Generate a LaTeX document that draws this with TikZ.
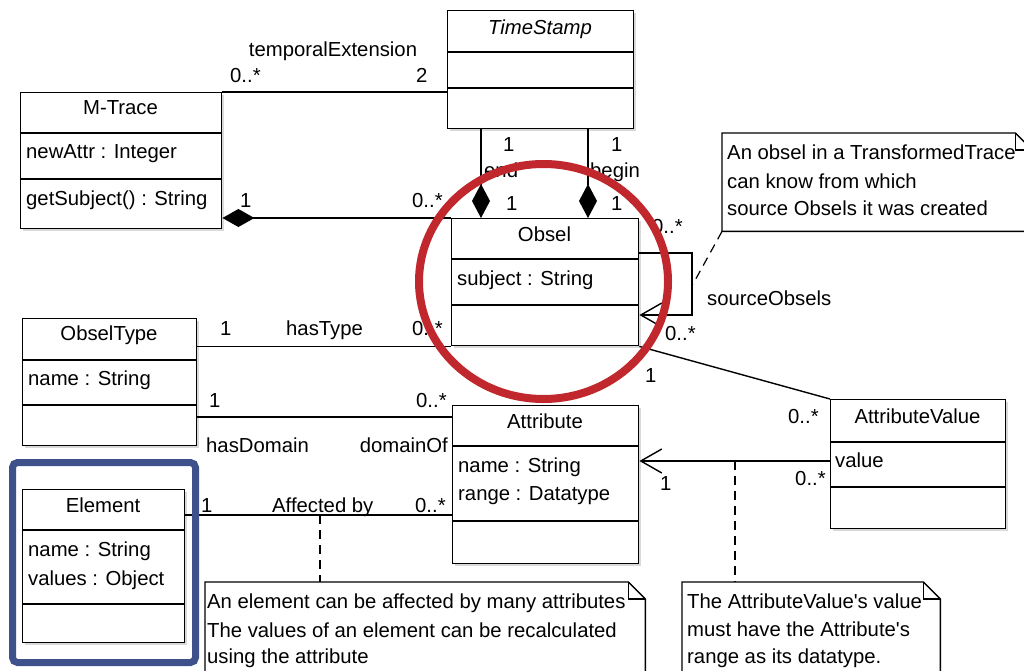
\documentclass[tikz,border=0pt]{standalone}
\usepackage{fontspec}
\setmainfont{Liberation Sans}[Ligatures=TeXOff]
\usetikzlibrary{arrows.meta,shadows}
\definecolor{circred}{RGB}{192,40,45}
\definecolor{hlblue}{RGB}{63,81,138}
\begin{document}
\begin{tikzpicture}[x=1pt,y=-1pt,
  ln/.style={line width=1.4pt, black},
  cls/.style={draw, line width=1.4pt, fill=white, inner sep=0pt, anchor=north west,
    drop shadow={shadow xshift=2pt,shadow yshift=-2pt,opacity=0.3}},
  notebox/.style={inner sep=0pt, anchor=north west},
  txt/.style={inner sep=0pt, font=\fontsize{20.3}{24}\selectfont},
  tw/.style={txt, anchor=base west},
  tc/.style={txt, anchor=base},
  comp/.style={ln, {Diamond[length=32pt,width=18pt]}-},
  compend/.style={ln, -{Diamond[length=34pt,width=18pt]}},
  nav/.style={ln, -{Straight Barb[length=21pt,width=24pt]}},
  dsh/.style={line width=1.2pt, dash pattern=on 9pt off 6pt},
]
\useasboundingbox (0,0) rectangle (1024,671);
\clip (0,0) rectangle (1024,671);

% ---------- classes ----------
\node[cls, minimum width=201pt, minimum height=136pt] (mtrace) at (20,92) {};
\draw[ln] (20,133) -- (221,133) (20,179) -- (221,179);
\node[tc] (mtraceT) at (120.5,115) {M-Trace};
\node[tw] (mtraceA) at (26,159) {newAttr : Integer};
\node[tw] (mtraceO) at (26,205) {getSubject() : String};

\node[cls, minimum width=186pt, minimum height=118pt] (ts) at (447,10) {};
\draw[ln] (447,52) -- (633,52) (447,88) -- (633,88);
\node[tc] (tsT) at (540,35) {\itshape TimeStamp};

\node[cls, minimum width=187pt, minimum height=127pt] (obsel) at (451,218) {};
\draw[ln] (451,259) -- (638,259) (451,305) -- (638,305);
\node[tc] (obselT) at (544.5,241) {Obsel};
\node[tw] (obselA) at (457,285) {subject : String};

\node[cls, minimum width=174pt, minimum height=127pt] (otype) at (22,318) {};
\draw[ln] (22,360) -- (196,360) (22,405) -- (196,405);
\node[tc] (otypeT) at (109,340) {ObselType};
\node[tw] (otypeA) at (28,385) {name : String};

\node[cls, minimum width=186pt, minimum height=158pt] (attr) at (452,405) {};
\draw[ln] (452,446) -- (638,446) (452,521) -- (638,521);
\node[tc] (attrT) at (545,428) {Attribute};
\node[tw] (attrA) at (458,472) {name : String};
\node[tw] (attrB) at (458,500) {range : Datatype};

\node[cls, minimum width=175pt, minimum height=129pt] (av) at (830,399) {};
\draw[ln] (830,442) -- (1005,442) (830,487) -- (1005,487);
\node[tc] (avT) at (917.5,423) {AttributeValue};
\node[tw] (avA) at (835,467) {value};

\node[cls, minimum width=162pt, minimum height=153pt] (elem) at (22,489) {};
\draw[ln] (22,530) -- (184,530) (22,604) -- (184,604);
\node[tc] (elemT) at (103,512) {Element};
\node[tw] (elemA) at (28,556) {name : String};
\node[tw] (elemB) at (28,585) {values : Object};

% ---------- notes ----------
\node[notebox, minimum width=310pt, minimum height=98pt] (note1) at (722,133) {};
\draw[ln, fill=white] (note1.north west) -- ([xshift=-17pt]note1.north east) -- ([yshift=-17pt]note1.north east) -- (note1.south east) -- (note1.south west) -- cycle;
\draw[ln] ([xshift=-17pt]note1.north east) -- ([xshift=-17pt,yshift=-17pt]note1.north east) -- ([yshift=-17pt]note1.north east);
\node[tw] (n1a) at (727,160) {An obsel in a TransformedTrace};
\node[tw] (n1b) at (727,188) {can know from which};
\node[tw] (n1c) at (727,215) {source Obsels it was created};

\node[notebox, minimum width=258pt, minimum height=120pt] (note2) at (682,582) {};
\draw[ln, fill=white] (note2.north west) -- ([xshift=-17pt]note2.north east) -- ([yshift=-17pt]note2.north east) -- (note2.south east) -- (note2.south west) -- cycle;
\draw[ln] ([xshift=-17pt]note2.north east) -- ([xshift=-17pt,yshift=-17pt]note2.north east) -- ([yshift=-17pt]note2.north east);
\node[tw] (n2a) at (687,608) {The AttributeValue's value};
\node[tw] (n2b) at (687,636) {must have the Attribute's};
\node[tw] (n2c) at (687,663) {range as its datatype.};

\node[notebox, minimum width=440pt, minimum height=120pt] (note3) at (205,582) {};
\draw[ln, fill=white] (note3.north west) -- ([xshift=-17pt]note3.north east) -- ([yshift=-17pt]note3.north east) -- (note3.south east) -- (note3.south west) -- cycle;
\draw[ln] ([xshift=-17pt]note3.north east) -- ([xshift=-17pt,yshift=-17pt]note3.north east) -- ([yshift=-17pt]note3.north east);
\node[tw] (n3a) at (207,608) {An element can be affected by many attributes};
\node[tw] (n3b) at (207,637) {The values of an element can be recalculated};
\node[tw] (n3c) at (207,663) {using the attribute};

% ---------- connectors ----------
% temporalExtension
\draw[ln] (mtrace.north east) -- (ts.west |- mtrace.north east);
\node[tc] (teL) at (333,57) {temporalExtension};
\node[tw] (teM1) at (230,83) {0..*};
\node[tw] (teM2) at (416,83) {2};

% M-Trace composition
\draw[comp] (mtrace.east |- obsel.north west) -- (obsel.north west);
\node[tw] (mcM1) at (240,207) {1};
\node[tw] (mcM2) at (412,207) {0..*};

% end / begin
\coordinate (endx) at (481,0);
\coordinate (begx) at (588,0);
\draw[compend] (ts.south -| endx) -- (obsel.north -| endx);
\draw[compend] (ts.south -| begx) -- (obsel.north -| begx);
\node[tw] (endM1) at (503,152) {1};
\node[tw] (endL) at (484,178) {end};
\node[tw] (endM2) at (506,210) {1};
\node[tw] (begM1) at (611,152) {1};
\node[tw] (begL) at (590,178) {begin};
\node[tw] (begM2) at (611,210) {1};

% self loop sourceObsels
\coordinate (lpA) at (692,253);
\coordinate (lpB) at (692,315);
\coordinate (lpM) at (693,284);
\draw[nav] (obsel.east |- lpA) -- (lpA) -- (lpB) -- (obsel.east |- lpB);
\node[tw] (lpM1) at (652,233) {0..*};
\node[tw] (lpM2) at (665,340) {0..*};
\node[tw] (lpL) at (707,305) {sourceObsels};
\draw[dsh] (note1.south west) -- (lpM);

% hasType
\draw[ln] (otype.east |- obsel.south west) -- (obsel.south west);
\node[tw] (htM1) at (220,335) {1};
\node[tw] (htL) at (286,335) {hasType};
\node[tw] (htM2) at (412,335) {0..*};

% hasDomain
\coordinate (domY) at (0,417);
\draw[ln] (otype.east |- domY) -- (attr.west |- domY);
\node[tw] (hdM1) at (209,407) {1};
\node[tw] (hdM2) at (416,407) {0..*};
\node[tw] (hdL) at (206,452) {hasDomain};
\node[txt, anchor=base east] (doL) at (448,452) {domainOf};

% Obsel - AttributeValue
\draw[ln] (obsel.south east) -- (av.north west);
\node[tw] (oaM1) at (645,382) {1};
\node[tw] (oaM2) at (788,423) {0..*};

% Attribute <- AttributeValue
\coordinate (arY) at (0,461);
\draw[nav] (av.west |- arY) -- (attr.east |- arY);
\node[tw] (aaM1) at (660,490) {1};
\node[tw] (aaM2) at (795,485) {0..*};
\coordinate (d2) at (735,461);
\draw[dsh] (d2) -- (note2.north -| d2);

% Affected by
\coordinate (affY) at (0,515);
\draw[ln] (elem.east |- affY) -- (attr.west |- affY);
\node[tw] (abM1) at (201,512) {1};
\node[tw] (abL) at (272,512) {Affected by};
\node[tw] (abM2) at (415,512) {0..*};
\coordinate (d3) at (320,515);
\draw[dsh] (d3) -- (note3.north -| d3);

% ---------- highlights ----------
\draw[circred, line width=8pt] (543.5,281.5) ellipse [x radius=124.5pt, y radius=117.5pt];
\draw[hlblue, line width=7pt, rounded corners=5pt] (12.5,462.5) rectangle (195.5,662.5);
\end{tikzpicture}
\end{document}
